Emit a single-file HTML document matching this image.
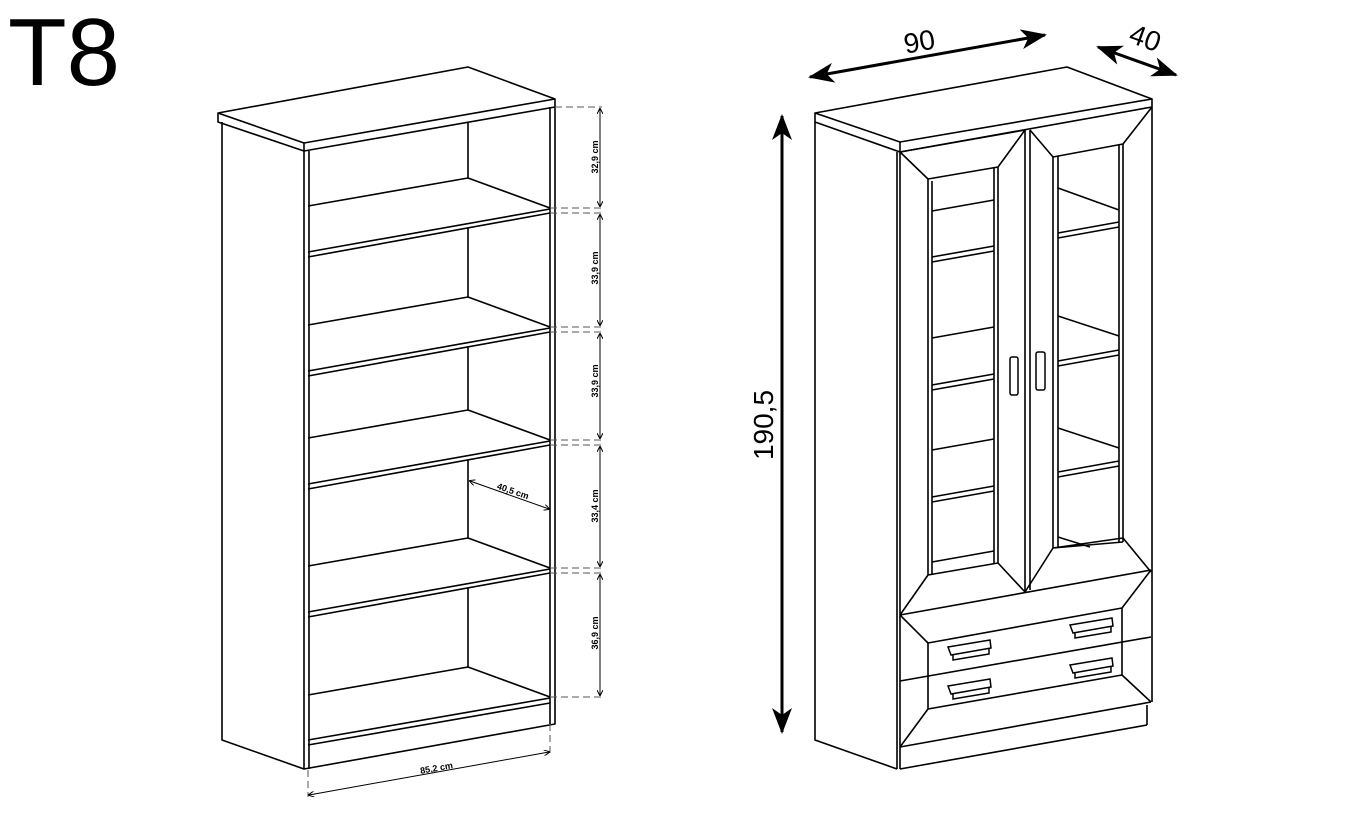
<!DOCTYPE html>
<html><head><meta charset="utf-8"><style>
html,body{margin:0;padding:0;background:#fff;}
svg{display:block;}
</style></head><body>
<svg width="1347" height="815" viewBox="0 0 1347 815" xmlns="http://www.w3.org/2000/svg" font-family="Liberation Sans, sans-serif">
<defs>
<marker id="sa" markerWidth="6" markerHeight="6" refX="5" refY="3" orient="auto-start-reverse" markerUnits="userSpaceOnUse"><path d="M0,0 L6,3 L0,6" fill="none" stroke="#000" stroke-width="1"/></marker>
<marker id="ba" markerWidth="26" markerHeight="20" refX="24" refY="10" orient="auto-start-reverse" markerUnits="userSpaceOnUse"><path d="M0,0 L26,10 L0,20 L7,10 Z" fill="#000"/></marker>
</defs>
<text x="8" y="85" font-size="96">T8</text>

<!-- LEFT CABINET -->
<g stroke="#000" stroke-width="1.6" fill="none" stroke-linejoin="round">
<path d="M218,113 L468,67 L555,99 L304,143 Z"/>
<path d="M218,113 L218,122 L304,151 L555,107 L555,99"/>
<path d="M304,143 L304,151"/>
<path d="M222,122 L222,740 L304,769 L555,724 L555,107"/>
<path d="M304,151 L304,769 M309,151 L309,769 M550,107 L550,724"/>
<path d="M308,206 L468,178 L550,208 M308,252 L550,209 M308,257 L550,213"/>
<path d="M308,325 L468,297 L550,327 M308,371 L550,328 M308,376 L550,332"/>
<path d="M308,438 L468,410 L550,440 M308,484 L550,441 M308,489 L550,445"/>
<path d="M308,566 L468,538 L550,568 M308,612 L550,569 M308,617 L550,573"/>
<path d="M308,695 L468,667 L550,697 M308,740 L550,698 M308,745 L550,703"/>
<path d="M468,122 L468,178 M468,228 L468,297 M468,347 L468,410 M468,460 L468,538 M468,588 L468,667"/>
</g>
<g stroke="#555" stroke-width="1" stroke-dasharray="7,4" fill="none">
<path d="M555,107 L602,107 M550,208 L602,208 M550,213 L602,213 M550,327 L602,327 M550,332 L602,332 M550,440 L602,440 M550,445 L602,445 M550,568 L602,568 M550,573 L602,573 M550,697 L602,697"/>
<path d="M308,770 L308,797 M550,724 L550,754"/>
</g>
<g stroke="#000" stroke-width="1" fill="none">
<path d="M600,109 L600,206" marker-start="url(#sa)" marker-end="url(#sa)"/>
<path d="M600,215 L600,325" marker-start="url(#sa)" marker-end="url(#sa)"/>
<path d="M600,334 L600,438" marker-start="url(#sa)" marker-end="url(#sa)"/>
<path d="M600,447 L600,566" marker-start="url(#sa)" marker-end="url(#sa)"/>
<path d="M600,575 L600,695" marker-start="url(#sa)" marker-end="url(#sa)"/>
<path d="M470,481 L549,509" marker-start="url(#sa)" marker-end="url(#sa)"/>
<path d="M309,795 L549,752" marker-start="url(#sa)" marker-end="url(#sa)"/>
</g>
<g font-size="9" font-weight="bold" fill="#000" text-anchor="middle">
<text transform="translate(598,157) rotate(-90)">32,9 cm</text>
<text transform="translate(598,268) rotate(-90)">33,9 cm</text>
<text transform="translate(598,381) rotate(-90)">33,9 cm</text>
<text transform="translate(598,506) rotate(-90)">33,4 cm</text>
<text transform="translate(598,633) rotate(-90)">36,9 cm</text>
<text transform="translate(512,494) rotate(19)">40,5 cm</text>
<text transform="translate(437,771) rotate(-10)">85,2 cm</text>
</g>

<!-- RIGHT CABINET -->
<g stroke="#000" stroke-width="1.6" fill="none" stroke-linejoin="round">
<path d="M815,113 L1067,67 L1152,99 L900,142 Z"/>
<path d="M815,113 L815,122 L900,152 L1152,107 L1152,99"/>
<path d="M900,142 L900,152"/>
<path d="M815,122 L815,740 L897,769 M897,152 L897,769 M900,152 L900,769"/>
<path d="M1152,107 L1152,702 M1147,705 L1147,725 M900,769 L1147,725 M900,747 L1151,702"/>
<path d="M900,152 L1025,130 L998,167 L928,179 Z"/>
<path d="M928,179 L928,575 M932,181 L932,574 M998,167 L998,563 M994,168 L994,563"/>
<path d="M928,575 L998,563 M928,575 L900,615 M998,563 L1025,592"/>
<path d="M1025,130 L1025,592 M1030,130 L1030,590"/>
<path d="M1030,130 L1053,157 L1123,144 L1152,107"/>
<path d="M1053,157 L1053,548 M1058,156 L1058,547 M1123,144 L1123,542 M1119,145 L1119,542"/>
<path d="M1025,592 L1053,548 L1123,538 L1151,572 M1053,548 L1123,542"/>
<path d="M932,211 L994,200 M932,257 L994,246 M932,262 L994,251 M932,338 L994,327 M932,385 L994,374 M932,390 L994,379 M932,450 L994,439 M932,497 L994,486 M932,502 L994,491 M932,562 L994,551"/>
<path d="M1058,188 L1119,210 M1058,233 L1119,222 M1058,238 L1119,227 M1058,316 L1119,336 M1058,361 L1119,350 M1058,366 L1119,355 M1058,428 L1119,448 M1058,472 L1119,461 M1058,477 L1119,466 M1058,537 L1090,547"/>
<path d="M900,615 L1151,570 M900,615 L928,643 L1122,608 L1151,570"/>
<path d="M900,681 L1151,637 M928,643 L928,709 L1122,675 L1122,608 M928,709 L900,747 M1122,675 L1151,702"/>
</g>
<g stroke="#000" stroke-width="1.5" fill="#fff">
<rect x="1010" y="357" width="8" height="38" rx="2"/>
<rect x="1036" y="352" width="9" height="38" rx="2"/>
<path d="M948,647 L990,640 L991,648 L951,655 Z M953,655 L953,660 L989,654 L989,648"/>
<path d="M1070,625 L1112,618 L1113,626 L1073,633 Z M1075,633 L1075,638 L1111,632 L1111,626"/>
<path d="M948,686 L990,679 L991,687 L951,694 Z M953,694 L953,699 L989,693 L989,687"/>
<path d="M1070,665 L1112,658 L1113,666 L1073,673 Z M1075,673 L1075,678 L1111,672 L1111,666"/>
</g>
<g stroke="#000" stroke-width="3" fill="none">
<path d="M810,77 L1045,35" marker-start="url(#ba)" marker-end="url(#ba)"/>
<path d="M1098,47 L1176,75" marker-start="url(#ba)" marker-end="url(#ba)"/>
<path d="M782,116 L782,732" marker-start="url(#ba)" marker-end="url(#ba)"/>
</g>
<g font-size="28" fill="#000" text-anchor="middle">
<text transform="translate(921,51) rotate(-10)">90</text>
<text transform="translate(1142,47) rotate(20)">40</text>
<text transform="translate(773,425) rotate(-90)">190,5</text>
</g>
</svg>
</body></html>
